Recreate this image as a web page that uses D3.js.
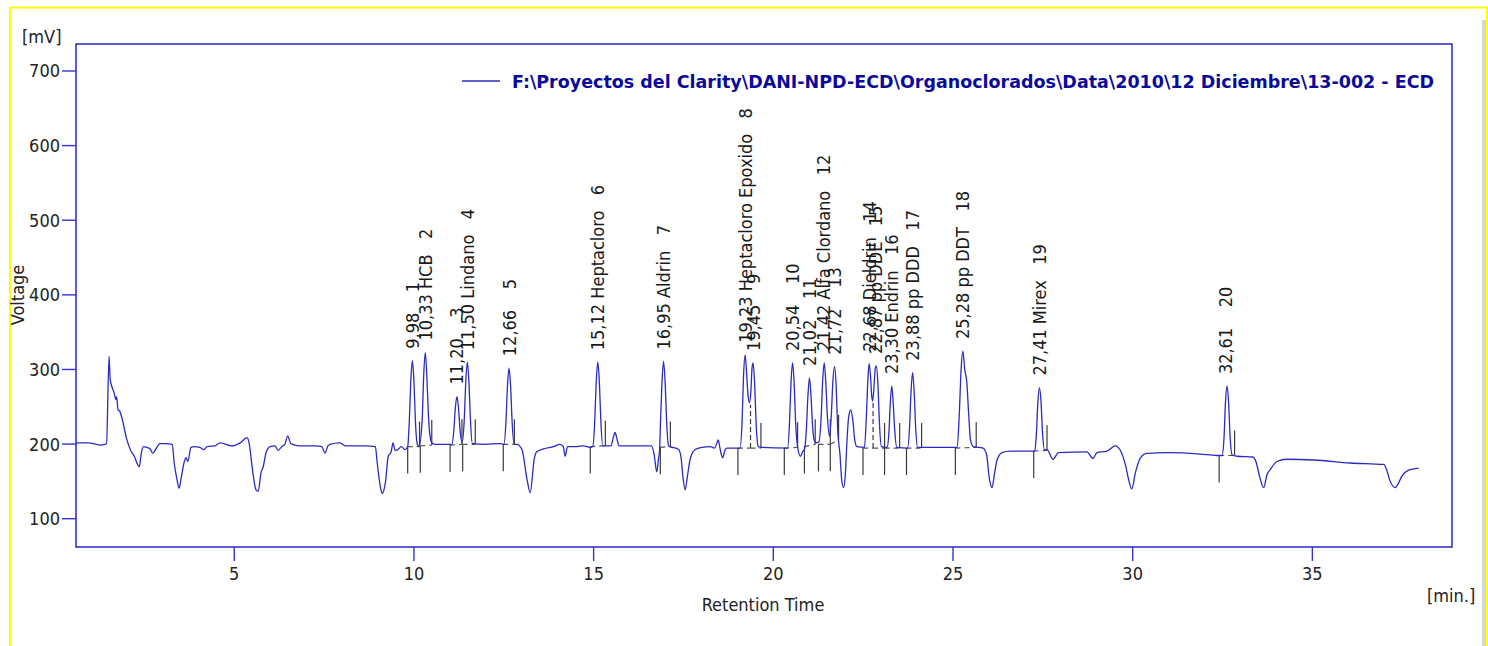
<!DOCTYPE html>
<html><head><meta charset="utf-8">
<script src="https://cdn.jsdelivr.net/npm/d3@7"></script>
<style>
html,body{margin:0;padding:0;background:#fff;}
svg{display:block;}
</style></head><body>
<svg id="c" width="1488" height="646"></svg>
<script>
// ---------- data ----------
const traceTime = [0.61,0.95,1.28,1.42,1.46,1.53,1.56,1.67,1.72,1.74,1.78,1.82,1.90,2.01,2.12,2.23,2.37,2.43,2.49,2.58,2.67,2.75,2.81,2.95,3.09,3.29,3.34,3.42,3.48,3.53,3.62,3.67,3.72,3.81,3.90,4.06,4.17,4.26,4.48,4.62,4.95,5.18,5.37,5.43,5.51,5.62,5.68,5.76,5.82,5.90,6.01,6.15,6.23,6.34,6.42,6.50,6.59,6.84,7.26,7.45,7.54,7.62,7.68,7.96,8.10,8.66,8.94,8.99,9.08,9.13,9.22,9.30,9.38,9.43,9.49,9.57,9.66,9.77,9.84,9.885,9.925,9.97,10.015,10.055,10.11,10.16,10.245,10.285,10.33,10.375,10.415,10.45,10.51,10.60,11.07,11.125,11.165,11.21,11.255,11.295,11.35,11.415,11.455,11.50,11.545,11.585,11.64,12.00,12.41,12.52,12.575,12.615,12.66,12.705,12.745,12.80,12.88,13.02,13.16,13.25,13.36,13.43,13.62,13.90,14.08,14.17,14.22,14.29,14.55,14.73,14.92,14.99,15.045,15.085,15.13,15.175,15.215,15.27,15.50,15.56,15.61,15.66,15.72,16.62,16.70,16.77,16.82,16.85,16.875,16.915,16.96,17.005,17.045,17.10,17.14,17.38,17.45,17.50,17.56,17.62,17.70,17.84,18.03,18.26,18.38,18.44,18.48,18.53,18.57,18.61,18.66,18.72,19.09,19.145,19.185,19.23,19.27,19.31,19.35,19.39,19.42,19.45,19.495,19.535,19.59,19.65,20.41,20.465,20.505,20.55,20.595,20.635,20.69,20.77,20.84,20.88,20.935,20.975,21.02,21.065,21.105,21.15,21.20,21.28,21.345,21.385,21.43,21.475,21.515,21.58,21.63,21.67,21.72,21.765,21.805,21.87,21.92,21.97,22.02,22.06,22.11,22.17,22.23,22.28,22.34,22.55,22.605,22.645,22.68,22.72,22.75,22.78,22.82,22.85,22.88,22.925,22.965,23.02,23.18,23.235,23.27,23.31,23.35,23.39,23.45,23.75,23.805,23.845,23.89,23.935,23.975,24.03,25.13,25.19,25.24,25.29,25.34,25.40,25.45,25.50,25.58,25.85,25.95,26.02,26.10,26.17,26.24,26.38,26.61,26.89,27.29,27.335,27.375,27.42,27.465,27.505,27.56,27.63,27.80,27.95,28.74,28.91,29.02,29.30,29.53,29.67,29.82,29.90,29.99,30.09,30.23,30.41,30.97,31.90,32.36,32.50,32.555,32.595,32.64,32.685,32.725,32.78,32.92,33.36,33.45,33.55,33.66,33.75,33.84,34.03,34.31,35.05,36.07,37.00,37.08,37.16,37.32,37.40,37.50,37.68,37.97];
const traceMv = [201,201,198,199,200,317,286,268,259,263,245,244,232,208,192,183,169,188,196,195,193,187,191,200,200,199,175,152,140,152,175,181,176,195,196,195,192,196,197,201,197,201,208,200,169,138,136,161,169,188,196,197,191,196,199,210,200,197,197,196,187,197,199,201,197,197,196,175,142,133,148,183,189,201,191,192,196,192,196,230,282,311,282,230,199,197,234,291,322,288,240,215,201,199,199,218,247,263,247,220,201,233,282,309,282,233,200,199,200,199,230,276,301,276,230,199,199,192,152,134,179,189,193,196,199,196,183,196,196,197,195,196,230,281,309,281,230,197,197,208,215,207,197,197,185,162,180,192,230,281,310,281,230,197,196,192,180,155,138,155,179,192,195,196,194,200,205,194,185,181,190,194,194,230,290,319,295,265,255,270,300,308,280,228,197,195,194,228,280,308,280,228,196,183,190,192,220,262,288,262,225,205,201,202,235,282,308,282,240,210,240,282,303,275,220,185,150,141,160,200,235,245,230,205,196,195,238,285,307,290,265,257,280,300,304,280,230,196,195,218,255,277,255,220,195,194,222,268,295,268,222,195,195,240,300,324,300,281,240,205,196,194,185,155,141,160,178,188,190,190,190,213,255,275,255,215,192,192,179,188,189,180,188,190,197,191,170,152,139,161,181,187,188,186,184,184,207,254,277,254,210,185,183,182,175,155,141,158,165,176,179,178,174,172,165,152,141,146,156,164,167];

const peakRT    = [9.98,10.33,11.20,11.50,12.66,15.12,16.95,19.23,19.45,20.54,21.02,21.42,21.72,22.68,22.87,23.30,23.88,25.28,27.41,32.61];
const peakRTText= ["9,98","10,33","11,20","11,50","12,66","15,12","16,95","19,23","19,45","20,54","21,02","21,42","21,72","22,68","22,87","23,30","23,88","25,28","27,41","32,61"];
const peakName  = ["","HCB","","Lindano","","Heptacloro","Aldrin","Heptacloro Epoxido","","","","Alfa Clordano","","Dieldrin","pp DDE","Endrin","pp DDD","pp DDT","Mirex",""];
const peakNum   = [1,2,3,4,5,6,7,8,9,10,11,12,13,14,15,16,17,18,19,20];
const peakTop   = [311,322,263,309,301,309,310,319,308,308,288,308,303,307,304,277,295,324,275,277];
const peakStart = [9.84,10.19,11.02,11.37,12.50,14.92,16.87,19.03,19.38,20.32,20.88,21.27,21.60,22.51,22.79,23.11,23.72,25.08,27.26,32.42];
const peakEnd   = [10.17,10.51,11.35,11.72,12.81,15.34,17.15,19.38,19.67,20.69,21.18,21.60,21.83,22.79,23.11,23.53,24.14,25.66,27.63,32.85];
const baseStart = [196,197,198,199,199,196,195,194,194,194,196,199,199,194,194,194,194,194,190,184];
const baseEnd   = [196,198,199,199,199,197,196,194,194,195,199,199,205,194,194,194,194,195,191,184];
const dropTime  = [19.38,22.79];
const dropTop   = [252,257];

const xTicks = [5,10,15,20,25,30,35];
const yTicks = [100,200,300,400,500,600,700];
const legendText = "F:\\Proyectos del Clarity\\DANI-NPD-ECD\\Organoclorados\\Data\\2010\\12 Diciembre\\13-002 - ECD";

// ---------- font ----------
function fontAvailable(name){
  const c=document.createElement('canvas').getContext('2d');
  const s='Heptacloro 15,12 Wmil';
  c.font='40px monospace'; const a=c.measureText(s).width;
  c.font='40px "'+name+'", monospace'; const b=c.measureText(s).width;
  return Math.abs(a-b)>0.5;
}
const cond = fontAvailable('DejaVu Sans Condensed');
const FONT = cond ? '"DejaVu Sans Condensed"' : '"Liberation Sans"';
const FS = cond ? 18 : 18.5;

// ---------- layout ----------
const svg = d3.select('#c');
const L=76, T=44, R=1452, B=547;
const x = d3.scaleLinear().domain([0.61,38.9]).range([L,R]);
const y = d3.scaleLinear().domain([61.4,735.5]).range([B,T]);

// yellow border + gray bar
svg.append('rect').attr('x',1482).attr('y',20).attr('width',4).attr('height',626).attr('fill','#d6d6d6');
svg.append('path').attr('d','M10,646 V7.5 H1487 V646').attr('fill','none').attr('stroke','#ffff00').attr('stroke-width',2);

// frame
svg.append('rect').attr('x',L).attr('y',T).attr('width',R-L).attr('height',B-T)
  .attr('fill','none').attr('stroke','#1818c4').attr('stroke-width',1.4);

// y axis ticks
const yAxis = d3.axisLeft(y).tickValues(yTicks).tickSize(14).tickPadding(2).tickFormat(d3.format('d'));
const gy = svg.append('g').attr('transform',`translate(${L},0)`).call(yAxis);
gy.select('.domain').remove();
gy.selectAll('.tick line').attr('stroke','#3434d0').attr('stroke-width',1.4);
gy.selectAll('.tick text').attr('font-family',FONT).attr('font-size',FS).attr('fill','#222').attr('dy','0.36em');

const xAxis = d3.axisBottom(x).tickValues(xTicks).tickSize(14).tickPadding(6).tickFormat(d3.format('d'));
const gx = svg.append('g').attr('transform',`translate(0,${B})`).call(xAxis);
gx.select('.domain').remove();
gx.selectAll('.tick line').attr('stroke','#3434d0').attr('stroke-width',1.4);
gx.selectAll('.tick text').attr('font-family',FONT).attr('font-size',FS).attr('fill','#222');

// axis titles
const txt = (s,xx,yy,anchor)=>svg.append('text').attr('x',xx).attr('y',yy).attr('text-anchor',anchor||'start')
  .attr('font-family',FONT).attr('font-size',FS).attr('fill','#222').text(s);
txt('[mV]',22,43);
txt('Retention Time',763,611,'middle');
txt('[min.]',1427,602);
svg.append('text').attr('transform','translate(24,295) rotate(-90)').attr('text-anchor','middle')
  .attr('font-family',FONT).attr('font-size',FS).attr('fill','#222').text('Voltage');

// integration markers
const mk = svg.append('g').attr('stroke','#3a3a3a').attr('stroke-width',1.2);
peakRT.forEach((rt,i)=>{
  const xs=x(peakStart[i]), xe=x(peakEnd[i]);
  const ys=y(baseStart[i]), ye=y(baseEnd[i]);
  mk.append('line').attr('x1',xs).attr('x2',xe).attr('y1',ys).attr('y2',ye)
    .attr('stroke','#555').attr('stroke-dasharray','5,4');
  if(!dropTime.includes(peakStart[i]))
    mk.append('line').attr('x1',xs).attr('x2',xs).attr('y1',ys).attr('y2',ys+27);
  if(!dropTime.includes(peakEnd[i]))
    mk.append('line').attr('x1',xe).attr('x2',xe).attr('y1',ye).attr('y2',ye-25);
});
dropTime.forEach((t,i)=>{
  mk.append('line').attr('x1',x(t)).attr('x2',x(t)).attr('y1',y(194)).attr('y2',y(dropTop[i]))
    .attr('stroke-dasharray','5,3');
});

// trace
const pts = traceTime.map((t,i)=>[t,traceMv[i]]);
const line = d3.line().x(d=>x(d[0])).y(d=>y(d[1])).curve(d3.curveMonotoneX);
svg.append('path').datum(pts).attr('d',line).attr('fill','none')
  .attr('stroke','#2a2ac4').attr('stroke-width',1.3).attr('stroke-linejoin','round');

// peak labels
peakRT.forEach((rt,i)=>{
  const s = peakRTText[i]+' '+peakName[i]+'   '+peakNum[i];
  svg.append('text')
    .attr('transform',`translate(${x(rt)},${y(peakTop[i])-12}) rotate(-90)`)
    .attr('dy','0.36em').attr('font-family',FONT).attr('font-size',FS).attr('fill','#1a1a1a')
    .style('white-space','pre').text(s);
});

// legend
svg.append('line').attr('x1',462).attr('x2',500).attr('y1',81).attr('y2',81).attr('stroke','#2a2ac4').attr('stroke-width',1.3);
svg.append('text').attr('x',512).attr('y',88).attr('font-family',FONT).attr('font-size',FS).attr('font-weight','bold')
  .attr('fill','#0a0a9a').attr('textLength',922).attr('lengthAdjust','spacingAndGlyphs').text(legendText);
</script>
</body></html>
